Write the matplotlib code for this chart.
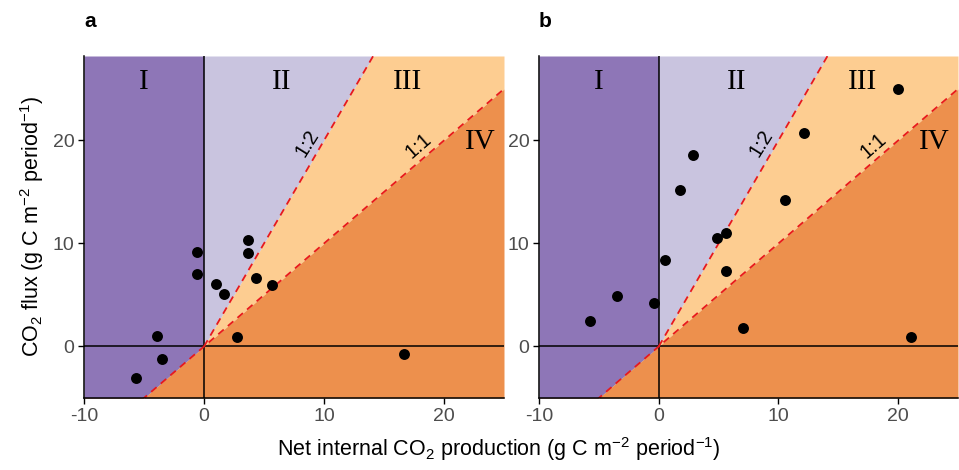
import numpy as np
import matplotlib
matplotlib.use("Agg")
import matplotlib.pyplot as plt

plt.rcParams["font.family"] = ["Liberation Sans", "DejaVu Sans"]
plt.rcParams["mathtext.fontset"] = "custom"
plt.rcParams["mathtext.rm"] = "Liberation Sans"

# data: net internal CO2 production (x) and CO2 flux (y)
a_x = [-0.6, -0.55, -3.9, -3.5, -5.7, 1.0, 1.7, 3.7, 3.65, 4.3, 5.65, 2.75, 16.7]
a_y = [9.2, 7.05, 1.05, -1.25, -3.05, 6.1, 5.1, 10.35, 9.1, 6.65, 6.0, 0.9, -0.75]
b_x = [20.0, 12.1, 2.9, 1.8, 10.55, 5.65, 4.9, 0.55, 5.6, -3.45, -0.4, -5.75, 7.05, 21.1]
b_y = [25.0, 20.75, 18.55, 15.15, 14.2, 11.05, 10.5, 8.35, 7.35, 4.95, 4.2, 2.45, 1.8, 0.9]

panels = ["a", "b"]
region_names = ["I", "II", "III", "IV"]
region_x = [-5, 6.5, 17, 23]
region_y = [25.7, 25.7, 25.7, 19.9]
xticks = [-10, 0, 10, 20]
yticks = [0, 10, 20]

XLIM, YLIM = (-10, 25), (-5, 28.2)
C_I, C_II, C_III, C_IV = "#5E3C99", "#B2ABD2", "#FDB863", "#E66101"
GREY = "#4D4D4D"
RED = "#E8191C"

fig = plt.figure(figsize=(9.59, 4.70), dpi=100)
boxes = [[84/959, 72/470, 420/959, 342/470], [539/959, 72/470, 419/959, 342/470]]

for lab, box, xs, ys in zip(panels, boxes, [a_x, b_x], [a_y, b_y]):
    ax = fig.add_axes(box)
    lo, hi = YLIM
    xneg = np.linspace(XLIM[0], 0, 50)
    xpos = np.linspace(0, XLIM[1], 200)
    xall = np.linspace(XLIM[0], XLIM[1], 300)
    # regions
    ax.fill_between(xneg, np.maximum(xneg, lo), hi, color=C_I, alpha=0.7, lw=0)
    ax.fill_between(xpos, np.minimum(2 * xpos, hi), hi, color=C_II, alpha=0.7, lw=0)
    ax.fill_between(xpos, xpos, np.minimum(2 * xpos, hi), color=C_III, alpha=0.7, lw=0)
    ax.fill_between(xall, lo, np.minimum(xall, hi), color=C_IV, alpha=0.7, lw=0)
    # reference lines
    ax.axvline(0, color="black", lw=1.1)
    ax.axhline(0, color="black", lw=1.1)
    ax.plot(xall, xall, color=RED, lw=1.3, ls=(0, (4, 3)))
    ax.plot(xpos, 2 * xpos, color=RED, lw=1.3, ls=(0, (4, 3)))
    ax.text(8.6, 19.7, "1:2", rotation=58, ha="center", va="center", fontsize=14.5)
    ax.text(17.9, 19.5, "1:1", rotation=41, ha="center", va="center", fontsize=14.5)
    for name, rx, ry in zip(region_names, region_x, region_y):
        ax.text(rx, ry, name, ha="center", va="center", fontsize=21,
                family="Liberation Serif")
    ax.scatter(xs, ys, s=62, color="black", zorder=5, lw=0)
    ax.set_xlim(*XLIM)
    ax.set_ylim(*YLIM)
    ax.set_xticks(xticks)
    ax.set_xticklabels([str(t) for t in xticks])
    ax.set_yticks(yticks)
    for s in ["top", "right"]:
        ax.spines[s].set_visible(False)
    for s in ["left", "bottom"]:
        ax.spines[s].set_linewidth(1.1)
    ax.tick_params(length=4, width=1.0, labelsize=14, labelcolor=GREY, pad=3)
    fig.text(box[0], 1 - 27/470, lab, fontsize=15, fontweight="bold",
             ha="left", va="baseline")
    if lab == "a":
        ax.set_ylabel("CO$_2$ flux (g C m$^{-2}$ period$^{-1}$)", fontsize=15.5, labelpad=5)

fig.text(499/959, 0.015, "Net internal CO$_2$ production (g C m$^{-2}$ period$^{-1}$)",
         ha="center", va="bottom", fontsize=15.5)

fig.savefig("out.png", dpi=100)
